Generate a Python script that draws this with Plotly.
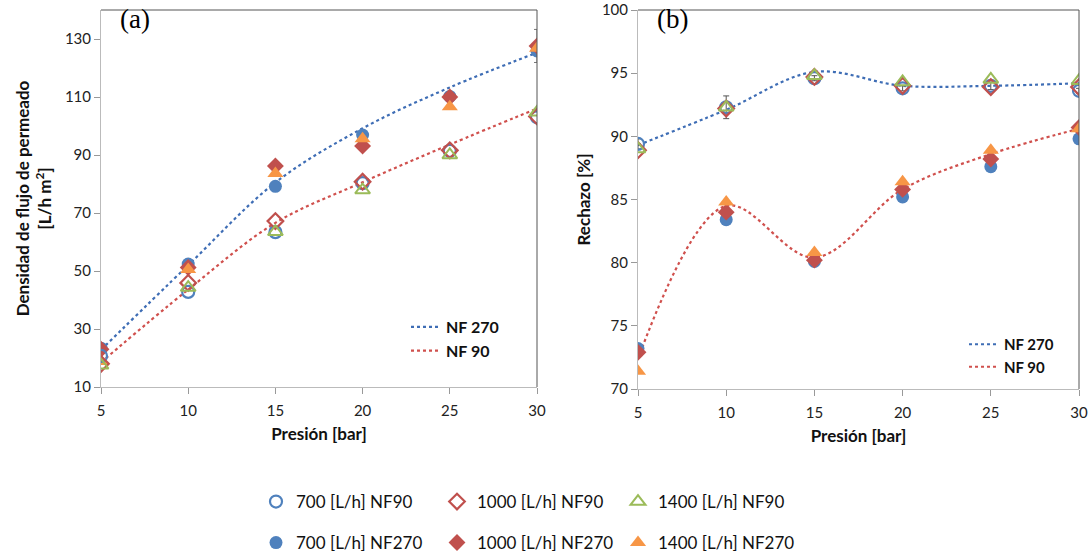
import plotly.graph_objects as go

# ---------------- data ----------------
presion = [5, 10, 15, 20, 25, 30]

# (a) Densidad de flujo de permeado [L/h m2]
a_700_nf90 = [20.7, 42.8, 63.4, 80.3, 91.4, 103.0]
a_1000_nf90 = [18.0, 45.9, 67.2, 80.8, 91.6, 103.3]
a_1400_nf90 = [17.5, 44.3, 63.5, 77.9, 90.0, 104.7]
a_700_nf270 = [23.4, 52.4, 79.2, 96.9, 110.2, 125.9]
a_1000_nf270 = [23.0, 51.2, 86.2, 93.1, 110.0, 127.6]
a_1400_nf270 = [18.8, 50.5, 83.6, 95.6, 106.6, 126.8]
a_trend_nf270 = [22.8, 52.0, 80.5, 99.2, 113.3, 125.3]
a_trend_nf90 = [18.5, 43.6, 66.6, 80.6, 93.6, 106.0]
a_err_1000_nf270 = [0.6, 0.8, 0.8, 0.9, 1.2, 5.7]

# (b) Rechazo [%]
b_700_nf90 = [89.4, 92.3, 94.6, 93.8, 94.0, 93.6]
b_1000_nf90 = [88.9, 92.2, 94.7, 94.0, 93.9, 93.9]
b_1400_nf90 = [89.0, 92.3, 94.8, 94.3, 94.5, 94.4]
b_700_nf270 = [73.2, 83.4, 80.1, 85.2, 87.6, 89.8]
b_1000_nf270 = [72.9, 84.0, 80.2, 85.8, 88.2, 90.7]
b_1400_nf270 = [71.4, 84.8, 80.8, 86.4, 88.9, 90.6]
b_trend_nf270 = [89.3, 92.1, 95.1, 94.0, 94.0, 94.2]
b_trend_nf90 = [72.4, 84.5, 80.4, 85.8, 88.6, 90.6]
b_err_700_nf90 = [0.4, 0.9, 0.2, 0.2, 0.3, 0.2]

series_labels = ["700 [L/h] NF90", "1000 [L/h] NF90", "1400 [L/h] NF90",
                 "700 [L/h] NF270", "1000 [L/h] NF270", "1400 [L/h] NF270"]
trend_labels = ["NF 270", "NF 90"]

BLUE = "#4F81BD"
RED = "#C0504D"
GREEN = "#9BBB59"
ORANGE = "#F79646"
TBLUE = "#3E6DB5"
TRED = "#D0504D"
FONT = "Lato"

fig = go.Figure()

styles = [
    dict(symbol="circle-open", color=BLUE, size=12, line=dict(width=2.2, color=BLUE)),
    dict(symbol="diamond-open", color=RED, size=12, line=dict(width=2.2, color=RED)),
    dict(symbol="triangle-up-open", color=GREEN, size=13, line=dict(width=2, color=GREEN)),
    dict(symbol="circle", color=BLUE, size=13, line=dict(width=0)),
    dict(symbol="diamond", color=RED, size=13, line=dict(width=0)),
    dict(symbol="triangle-up", color=ORANGE, size=14, line=dict(width=0)),
]
legends = ["legend4", "legend4", "legend4", "legend", "legend", "legend"]

a_series = [a_700_nf90, a_1000_nf90, a_1400_nf90, a_700_nf270, a_1000_nf270, a_1400_nf270]
b_series = [b_700_nf90, b_1000_nf90, b_1400_nf90, b_700_nf270, b_1000_nf270, b_1400_nf270]

order = [3, 4, 5, 0, 1, 2]

trend_line = dict(width=2.2, dash="dot", shape="spline", smoothing=1.0)
fig.add_trace(go.Scatter(x=presion, y=a_trend_nf270, mode="lines", name=trend_labels[0],
                         line=dict(color=TBLUE, **trend_line), xaxis="x", yaxis="y", legend="legend2"))
fig.add_trace(go.Scatter(x=presion, y=a_trend_nf90, mode="lines", name=trend_labels[1],
                         line=dict(color=TRED, **trend_line), xaxis="x", yaxis="y", legend="legend2"))
fig.add_trace(go.Scatter(x=presion, y=b_trend_nf270, mode="lines", name=trend_labels[0],
                         line=dict(color=TBLUE, **trend_line), xaxis="x2", yaxis="y2", legend="legend3"))
fig.add_trace(go.Scatter(x=presion, y=b_trend_nf90, mode="lines", name=trend_labels[1],
                         line=dict(color=TRED, **trend_line), xaxis="x2", yaxis="y2", legend="legend3"))

for i in order:
    st = styles[i]
    mk = dict(symbol=st["symbol"], color=st["color"], size=st["size"], line=st["line"])
    err_a = None
    if i == 4:
        err_a = dict(type="data", array=a_err_1000_nf270, color="#777", thickness=1, width=3)
    fig.add_trace(go.Scatter(x=presion, y=a_series[i], mode="markers", name=series_labels[i],
                             marker=mk, xaxis="x", yaxis="y", legend=legends[i],
                             error_y=err_a, showlegend=True))
    err_b = None
    if i == 0:
        err_b = dict(type="data", array=b_err_700_nf90, color="#555", thickness=1, width=3)
    fig.add_trace(go.Scatter(x=presion, y=b_series[i], mode="markers", name=series_labels[i],
                             marker=mk, xaxis="x2", yaxis="y2", legend=legends[i],
                             error_y=err_b, showlegend=False))

W, H = 1091, 558
def px_x(p):
    return p / W
def px_y(p):
    return 1 - p / H

ax_common = dict(showgrid=False, zeroline=False, ticks="outside", ticklen=6,
                 tickcolor="#999", showline=True, linecolor="#BBBBBB", linewidth=1,
                 automargin=False,
                 tickfont=dict(family=FONT, size=15, color="#222"))
title_font = dict(family=FONT, size=17, color="#111", weight="bold")
leg_font = dict(family=FONT, size=17, color="#111")

fig.update_layout(
    width=W, height=H,
    margin=dict(l=0, r=0, t=0, b=0, autoexpand=False),
    paper_bgcolor="white", plot_bgcolor="white",
    font=dict(family=FONT, color="#111"),
    xaxis=dict(domain=[px_x(101), px_x(537)], range=[5, 30], dtick=5, tick0=5,
               ticklabelstandoff=4,
               title=dict(text="Presión [bar]", font=title_font, standoff=10),
               anchor="y", **ax_common),
    yaxis=dict(domain=[px_y(387), px_y(10)], range=[10, 140], tickvals=[10, 30, 50, 70, 90, 110, 130],
               title=dict(text="Densidad de flujo de permeado<br>[L/h m<sup>2</sup>]",
                          font=title_font, standoff=8),
               anchor="x", **ax_common),
    xaxis2=dict(domain=[px_x(638), px_x(1079)], range=[5, 30], dtick=5, tick0=5,
                ticklabelstandoff=4,
                title=dict(text="Presión [bar]", font=title_font, standoff=10),
                anchor="y2", **ax_common),
    yaxis2=dict(domain=[px_y(389), px_y(10)], range=[70, 100], dtick=5,
                title=dict(text="Rechazo [%]", font=title_font, standoff=6),
                anchor="x2", **ax_common),
    legend=dict(orientation="h", x=px_x(256), y=px_y(543), xanchor="left", yanchor="middle",
                entrywidth=136, entrywidthmode="pixels", bgcolor="rgba(0,0,0,0)",
                font=leg_font, itemwidth=30),
    legend4=dict(orientation="h", x=px_x(256), y=px_y(502), xanchor="left", yanchor="middle",
                 entrywidth=136, entrywidthmode="pixels", bgcolor="rgba(0,0,0,0)",
                 font=leg_font, itemwidth=30),
    legend2=dict(x=px_x(406), y=px_y(310), xanchor="left", yanchor="top", bgcolor="rgba(0,0,0,0)",
                 font=dict(family=FONT, size=16, color="#111", weight="bold"), itemwidth=30,
                 tracegroupgap=0),
    legend3=dict(x=px_x(964), y=px_y(328), xanchor="left", yanchor="top", bgcolor="rgba(0,0,0,0)",
                 font=dict(family=FONT, size=15, color="#111", weight="bold"), itemwidth=30,
                 tracegroupgap=0),
    showlegend=True,
)

for xr, yr in [("x domain", "y domain"), ("x2 domain", "y2 domain")]:
    fig.add_shape(type="line", xref=xr, yref=yr, x0=0, x1=1, y0=1, y1=1,
                  line=dict(color="#555", width=1))
    fig.add_shape(type="line", xref=xr, yref=yr, x0=1, x1=1, y0=0, y1=1,
                  line=dict(color="#555", width=1))

fig.add_annotation(text="(a)", xref="paper", yref="paper", x=px_x(118), y=px_y(19),
                   xanchor="left", yanchor="middle", showarrow=False,
                   font=dict(family="Liberation Serif", size=27, color="#000"))
fig.add_annotation(text="(b)", xref="paper", yref="paper", x=px_x(655), y=px_y(19),
                   xanchor="left", yanchor="middle", showarrow=False,
                   font=dict(family="Liberation Serif", size=27, color="#000"))

fig.write_html("out.html", config={"displayModeBar": False},
               post_script="document.body.style.margin='0px';document.body.style.overflow='hidden';")
